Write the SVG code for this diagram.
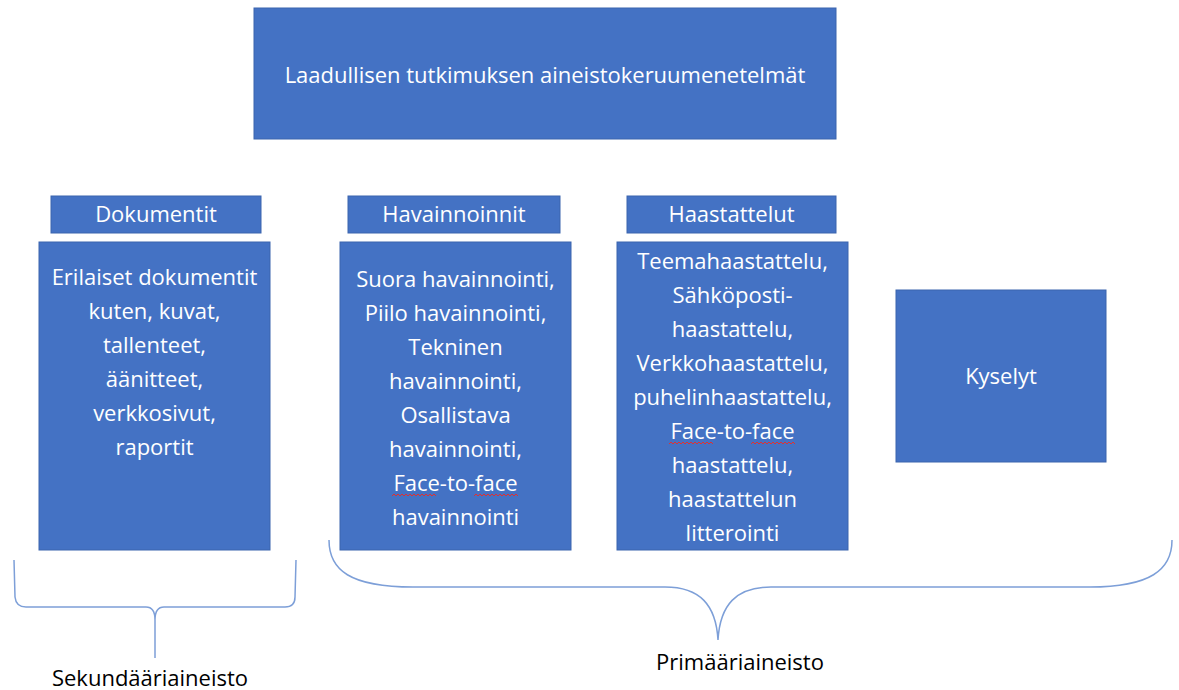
<svg xmlns="http://www.w3.org/2000/svg" width="1179" height="690" viewBox="0 0 1179 690">
<style>
.box{fill:#4472C4;stroke:#3A64AE;stroke-width:1}
.t{font-family:"Open Sans","Liberation Sans",Arial,sans-serif;font-size:22px;fill:#ffffff;text-anchor:middle}
.lab{font-family:"Open Sans","Liberation Sans",Arial,sans-serif;font-size:22px;fill:#000000;text-anchor:middle}
.brace{fill:none;stroke:#7D9FD8;stroke-width:1.5}
.sq{fill:none;stroke:#E03030;stroke-width:1}
</style>
<rect width="1179" height="690" fill="#ffffff"/>
<g id="title">
<rect class="box" x="254" y="8" width="582" height="131"/>
<text class="t" x="545" y="83">Laadullisen tutkimuksen aineistokeruumenetelmät</text>
</g>
<g id="dokumentit-header">
<rect class="box" x="51" y="196" width="210" height="37"/>
<text class="t" x="156" y="222">Dokumentit</text>
</g>
<g id="dokumentit">
<rect class="box" x="39" y="242" width="231" height="308"/>
<text class="t" x="154.5" y="285">Erilaiset dokumentit</text>
<text class="t" x="154.5" y="319">kuten, kuvat,</text>
<text class="t" x="154.5" y="353">tallenteet,</text>
<text class="t" x="154.5" y="387">äänitteet,</text>
<text class="t" x="154.5" y="421">verkkosivut,</text>
<text class="t" x="154.5" y="455">raportit</text>
</g>
<g id="havainnoinnit-header">
<rect class="box" x="348" y="196" width="212" height="37"/>
<text class="t" x="454" y="222">Havainnoinnit</text>
</g>
<g id="havainnoinnit">
<rect class="box" x="340" y="242" width="231" height="308"/>
<text class="t" x="455.5" y="287">Suora havainnointi,</text>
<text class="t" x="455.5" y="321">Piilo havainnointi,</text>
<text class="t" x="455.5" y="355">Tekninen</text>
<text class="t" x="455.5" y="389">havainnointi,</text>
<text class="t" x="455.5" y="423">Osallistava</text>
<text class="t" x="455.5" y="457">havainnointi,</text>
<text class="t" x="455.5" y="491">Face-to-face</text>
<text class="t" x="455.5" y="525">havainnointi</text>
<path class="sq" d="M392 496 l2 -2 l2 2 l2 -2 l2 2 l2 -2 l2 2 l2 -2 l2 2 l2 -2 l2 2 l2 -2 l2 2 l2 -2 l2 2 l2 -2 l2 2 l2 -2 l2 2 l2 -2 l2 2 l2 -2 l2 2"/>
<path class="sq" d="M474 496 l2 -2 l2 2 l2 -2 l2 2 l2 -2 l2 2 l2 -2 l2 2 l2 -2 l2 2 l2 -2 l2 2 l2 -2 l2 2 l2 -2 l2 2 l2 -2 l2 2 l2 -2 l2 2 l2 -2 l2 2"/>
</g>
<g id="haastattelut-header">
<rect class="box" x="627" y="196" width="209" height="37"/>
<text class="t" x="731.5" y="222">Haastattelut</text>
</g>
<g id="haastattelut">
<rect class="box" x="617" y="242" width="231" height="308"/>
<text class="t" x="732.5" y="269">Teemahaastattelu,</text>
<text class="t" x="732.5" y="303">Sähköposti-</text>
<text class="t" x="732.5" y="337">haastattelu,</text>
<text class="t" x="732.5" y="371">Verkkohaastattelu,</text>
<text class="t" x="732.5" y="405">puhelinhaastattelu,</text>
<text class="t" x="732.5" y="439">Face-to-face</text>
<text class="t" x="732.5" y="473">haastattelu,</text>
<text class="t" x="732.5" y="507">haastattelun</text>
<text class="t" x="732.5" y="541">litterointi</text>
<path class="sq" d="M669 444 l2 -2 l2 2 l2 -2 l2 2 l2 -2 l2 2 l2 -2 l2 2 l2 -2 l2 2 l2 -2 l2 2 l2 -2 l2 2 l2 -2 l2 2 l2 -2 l2 2 l2 -2 l2 2 l2 -2 l2 2"/>
<path class="sq" d="M751 444 l2 -2 l2 2 l2 -2 l2 2 l2 -2 l2 2 l2 -2 l2 2 l2 -2 l2 2 l2 -2 l2 2 l2 -2 l2 2 l2 -2 l2 2 l2 -2 l2 2 l2 -2 l2 2 l2 -2 l2 2"/>
</g>
<g id="kyselyt">
<rect class="box" x="896" y="290" width="210" height="172"/>
<text class="t" x="1001" y="384">Kyselyt</text>
</g>
<g id="connectors">
<path class="brace" d="M14 560 L15 597 Q16 607 26 607 L146 607 Q155 607 155 620 L155 658 M155 658 L155 620 Q155 607 164 607 L285 607 Q295 607 295 597 L296 560"/>
<path class="brace" d="M329 540 C329 570 350 587 413 587 L665 587 C700 587 716 605 718 640 C720 605 736 587 771 587 L1090 587 C1150 587 1172 570 1172 540"/>
</g>
<g id="labels">
<text class="lab" x="150" y="686">Sekundääriaineisto</text>
<text class="lab" x="740" y="670">Primääriaineisto</text>
</g>
</svg>
